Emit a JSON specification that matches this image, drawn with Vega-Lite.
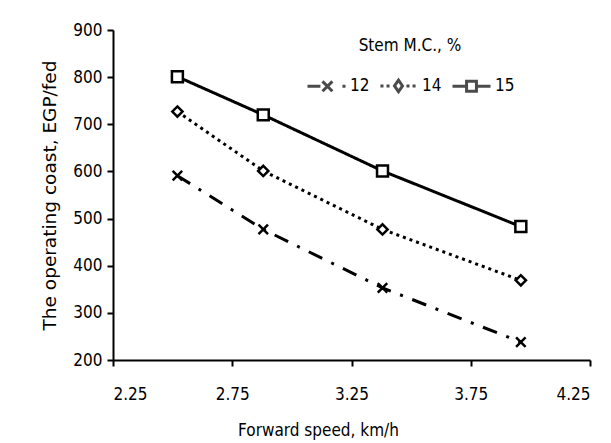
{
  "$schema": "https://vega.github.io/schema/vega-lite/v6.json",
  "width": 477,
  "height": 330,
  "autosize": {"type": "none"},
  "padding": {"left": 113, "top": 30, "right": 21, "bottom": 83},
  "background": "white",
  "config": {
    "view": {"stroke": null},
    "font": "Liberation Sans Narrow, DejaVu Sans Condensed, sans-serif",
    "axis": {
      "domainColor": "black", "domainWidth": 2, "tickColor": "black", "tickWidth": 2, "tickSize": 6,
      "grid": false, "labelColor": "black", "labelFontSize": 17, "labelFont": "Liberation Sans Narrow, DejaVu Sans Condensed, sans-serif",
      "titleColor": "black", "titleFontWeight": "normal"
    }
  },
  "data": {"values": [
    {"speed": 2.52, "cost": 591, "mc": "12"},
    {"speed": 2.88, "cost": 477, "mc": "12"},
    {"speed": 3.38, "cost": 353, "mc": "12"},
    {"speed": 3.96, "cost": 238, "mc": "12"},
    {"speed": 2.52, "cost": 727, "mc": "14"},
    {"speed": 2.88, "cost": 601, "mc": "14"},
    {"speed": 3.38, "cost": 477, "mc": "14"},
    {"speed": 3.96, "cost": 369, "mc": "14"},
    {"speed": 2.52, "cost": 801, "mc": "15"},
    {"speed": 2.88, "cost": 720, "mc": "15"},
    {"speed": 3.38, "cost": 601, "mc": "15"},
    {"speed": 3.96, "cost": 483, "mc": "15"}
  ]},
  "encoding": {
    "x": {"field": "speed", "type": "quantitative",
      "scale": {"domain": [2.25, 4.25], "nice": false, "zero": false},
      "axis": {"values": [2.25, 2.75, 3.25, 3.75, 4.25], "format": ".2f", "labelPadding": 20,
        "title": "Forward speed, km/h", "titleFontSize": 17, "titlePadding": 20, "titleX": 205,
        "titleFont": "Liberation Sans Narrow, DejaVu Sans Condensed, sans-serif"}},
    "y": {"field": "cost", "type": "quantitative",
      "scale": {"domain": [200, 900], "nice": false, "zero": false},
      "axis": {"values": [200, 300, 400, 500, 600, 700, 800, 900], "labelPadding": 5,
        "title": "The operating coast,  EGP/fed", "titleFontSize": 18.5, "titlePadding": 13,
        "titleFont": "DejaVu Sans"}}
  },
  "layer": [
    {
      "mark": {"type": "line", "color": "black", "strokeWidth": 3, "strokeCap": "butt"},
      "encoding": {
        "strokeDash": {"field": "mc", "type": "nominal", "legend": null,
          "scale": {"domain": ["12", "14", "15"], "range": [[15, 10, 3, 10], [3, 4], [1, 0]]}}
      }
    },
    {
      "mark": {"type": "point", "filled": false, "fill": "white", "stroke": "black", "strokeWidth": 2.5, "opacity": 1},
      "encoding": {
        "shape": {"field": "mc", "type": "nominal", "legend": null,
          "scale": {"domain": ["12", "14", "15"], "range": ["M-1,-1L1,1M1,-1L-1,1", "diamond", "square"]}},
        "size": {"field": "mc", "type": "nominal", "legend": null,
          "scale": {"domain": ["12", "14", "15"], "range": [90, 120, 120]}}
      }
    },
    {
      "mark": {"type": "point", "color": "black", "filled": false, "strokeWidth": 3, "clip": true},
      "encoding": {
        "x": {"datum": 10},
        "shape": {"field": "mc", "type": "nominal",
          "scale": {"domain": ["12", "14", "15"], "range": [
            "M-1,0H-0.32M-0.21,-0.26L0.31,0.26M0.31,-0.26L-0.21,0.26M0.84,0H1",
            "M-0.95,0H-0.79M-0.63,0H-0.47M-0.21,0L0,-0.3L0.21,0L0,0.3ZM0.42,0H0.58M0.74,0H0.9",
            "M-1,0H-0.26M-0.26,-0.26H0.26V0.26H-0.26ZM0.26,0H1"]},
          "legend": {
            "title": "Stem M.C., %", "orient": "none", "direction": "horizontal",
            "legendX": 193, "legendY": 8, "titleAnchor": "middle", "titleAlign": "center",
            "titleFontSize": 17, "titleFontWeight": "normal", "titleColor": "black", "titlePadding": 10,
            "labelFontSize": 17, "labelColor": "black", "labelOffset": 3, "columnPadding": 4,
            "symbolSize": 1444, "symbolStrokeWidth": 3
          }}
      }
    }
  ],
  "resolve": {"scale": {"shape": "independent"}, "legend": {"shape": "independent"}}
}
